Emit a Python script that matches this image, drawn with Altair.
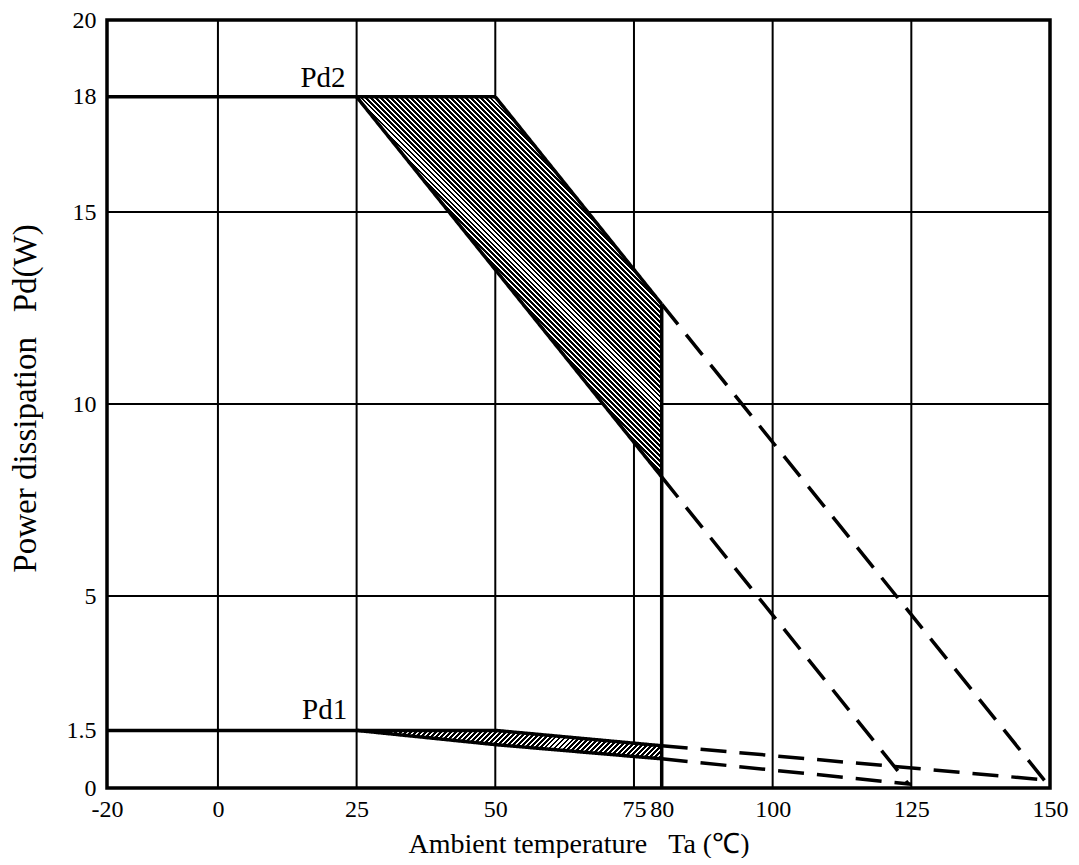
import altair as alt
import pandas as pd

# ---------------- data ----------------
x_ticks = [-20, 0, 25, 50, 75, 80, 100, 125, 150]
y_ticks = [0, 1.5, 5, 10, 15, 18, 20]
x_grid = [0, 25, 50, 75, 100, 125]
y_grid = [5, 10, 15]

# solid curves
pd2_flat_x = [-20, 25, 50]
pd2_flat_y = [18, 18, 18]
pd2_upper_x = [50, 80]
pd2_upper_y = [18, 12.6]
pd2_lower_x = [25, 80]
pd2_lower_y = [18, 8.1]
limit_x = [80, 80]
limit_y = [0, 12.6]
pd1_upper_x = [-20, 25, 50, 80]
pd1_upper_y = [1.5, 1.5, 1.5, 1.1]
pd1_lower_x = [25, 50, 80]
pd1_lower_y = [1.5, 1.13, 0.76]
# dashed extrapolations
pd2_upper_dash_x = [80, 149]
pd2_upper_dash_y = [12.6, 0.2]
pd2_lower_dash_x = [80, 124.5]
pd2_lower_dash_y = [8.1, 0.1]
pd1_upper_dash_x = [80, 150]
pd1_upper_dash_y = [1.1, 0.2]
pd1_lower_dash_x = [80, 125]
pd1_lower_dash_y = [0.76, 0.1]

# shaded bands
band_x = [25, 50, 80]
pd2_top = [18, 18, 12.6]
pd2_bot = [18, 13.5, 8.1]
pd1_top = [1.5, 1.5, 1.1]
pd1_bot = [1.5, 1.13, 0.76]

label_text = ["Pd2", "Pd1"]
label_x = [23.0, 23.3]
label_y = [18.25, 1.8]

# ---------------- build tables ----------------
segments = [
    ("pd2_flat", "solid", pd2_flat_x, pd2_flat_y),
    ("pd2_upper", "solid", pd2_upper_x, pd2_upper_y),
    ("pd2_lower", "solid", pd2_lower_x, pd2_lower_y),
    ("limit", "solid", limit_x, limit_y),
    ("pd1_upper", "solid", pd1_upper_x, pd1_upper_y),
    ("pd1_lower", "solid", pd1_lower_x, pd1_lower_y),
    ("pd2_upper_dash", "dashed", pd2_upper_dash_x, pd2_upper_dash_y),
    ("pd2_lower_dash", "dashed", pd2_lower_dash_x, pd2_lower_dash_y),
    ("pd1_upper_dash", "dashed", pd1_upper_dash_x, pd1_upper_dash_y),
    ("pd1_lower_dash", "dashed", pd1_lower_dash_x, pd1_lower_dash_y),
]
rows = []
for seg, kind, xs_, ys_ in segments:
    for i, (a, b) in enumerate(zip(xs_, ys_)):
        rows.append({"seg": seg, "kind": kind, "x": a, "y": b, "ord": i})
lines_df = pd.DataFrame(rows)

pd2_df = pd.DataFrame({"x": band_x, "y": pd2_top, "y2": pd2_bot})
pd1_df = pd.DataFrame({"x": band_x, "y": pd1_top, "y2": pd1_bot})
labels_df = pd.DataFrame({"x": label_x, "y": label_y, "t": label_text})
vgrid_df = pd.DataFrame({"x": x_grid})
hgrid_df = pd.DataFrame({"y": y_grid})

# ---------------- layout / style ----------------
W, H = 943, 768
XMIN, XMAX, YMIN, YMAX = -20, 150, 0, 20
FONT = "Liberation Serif"


def hatch(x0, x1, y0, y1, direction, period=3.5, ink=0.58):
    """Striped gradient imitating a diagonal hatch over the band's box."""
    w = (x1 - x0) * W / (XMAX - XMIN)
    h = (y1 - y0) * H / (YMAX - YMIN)
    s = (w + h) / (w * w + h * h)
    n = max(1, int(round((w + h) / (2 ** 0.5) / period)))
    stops = []
    for i in range(n):
        a, m, b = i / n, (i + ink) / n, (i + 1) / n
        stops += [
            {"offset": a, "color": "#000000"},
            {"offset": m, "color": "#000000"},
            {"offset": m, "color": "#ffffff"},
            {"offset": b, "color": "#ffffff"},
        ]
    if direction == "back":  # stripes like "\"
        return {"gradient": "linear", "stops": stops,
                "x1": 0, "y1": 1, "x2": s * w, "y2": 1 - s * h}
    return {"gradient": "linear", "stops": stops,
            "x1": 0, "y1": 0, "x2": s * w, "y2": s * h}


xscale = alt.Scale(domain=[XMIN, XMAX], nice=False, zero=False)
yscale = alt.Scale(domain=[YMIN, YMAX], nice=False, zero=False)

x_axis = alt.Axis(
    values=x_ticks, grid=False, ticks=False, domain=False,
    labelExpr="datum.value == 80 ? '\u00a0\u00a0' + datum.value : '' + datum.value",
    labelFont=FONT, labelFontSize=24,
    labelColor="black", labelPadding=9, labelFlush=False, labelOverlap=False,
    title="Ambient temperature\u00a0\u00a0\u00a0Ta\u00a0(\u2103)",
    titleFont=FONT, titleFontSize=28, titleFontWeight="normal",
    titleColor="black", titleY=42, titleBaseline="top",
)
y_axis = alt.Axis(
    values=y_ticks, grid=False, ticks=False, domain=False,
    labelExpr="'' + datum.value", labelFont=FONT, labelFontSize=24,
    labelColor="black", labelPadding=11, labelFlush=False, labelOverlap=False,
    title="Power dissipation\u00a0\u00a0\u00a0Pd(W)",
    titleFont=FONT, titleFontSize=33, titleFontWeight="normal",
    titleColor="black", titleX=-82, titleY=378, titleAngle=270,
    titleBaseline="middle", titleAlign="center",
)


def X(field="x"):
    return alt.X(f"{field}:Q", scale=xscale, axis=x_axis)


def Y(field="y"):
    return alt.Y(f"{field}:Q", scale=yscale, axis=y_axis)


vgrid = alt.Chart(vgrid_df).mark_rule(color="black", strokeWidth=2).encode(x=X())
hgrid = alt.Chart(hgrid_df).mark_rule(color="black", strokeWidth=2).encode(y=Y())

band2 = alt.Chart(pd2_df).mark_area(
    color=hatch(25, 80, 8.1, 18, "back"), opacity=1
).encode(x=X(), y=Y(), y2="y2:Q")
band1 = alt.Chart(pd1_df).mark_area(
    color=hatch(25, 80, 0.76, 1.5, "fwd"), opacity=1
).encode(x=X(), y=Y(), y2="y2:Q")

lines = alt.Chart(lines_df).mark_line(color="black", strokeWidth=3.5).encode(
    x=X(), y=Y(),
    detail="seg:N",
    order="ord:Q",
    strokeDash=alt.StrokeDash(
        "kind:N",
        scale=alt.Scale(domain=["solid", "dashed"], range=[[1, 0], [26, 13]]),
        legend=None,
    ),
)

labels = alt.Chart(labels_df).mark_text(
    align="right", baseline="alphabetic", font=FONT, fontSize=29, color="black"
).encode(x=X(), y=Y(), text="t:N")

chart = (
    alt.layer(vgrid, hgrid, band2, band1, lines, labels)
    .properties(
        width=W, height=H,
        autosize=alt.AutoSizeParams(type="none"),
        padding={"left": 99, "top": 12, "right": 20, "bottom": 70},
        background="white",
    )
    .configure_view(stroke="black", strokeWidth=3.5)
)

chart.save("out.html", embed_options={"renderer": "svg", "actions": False})
